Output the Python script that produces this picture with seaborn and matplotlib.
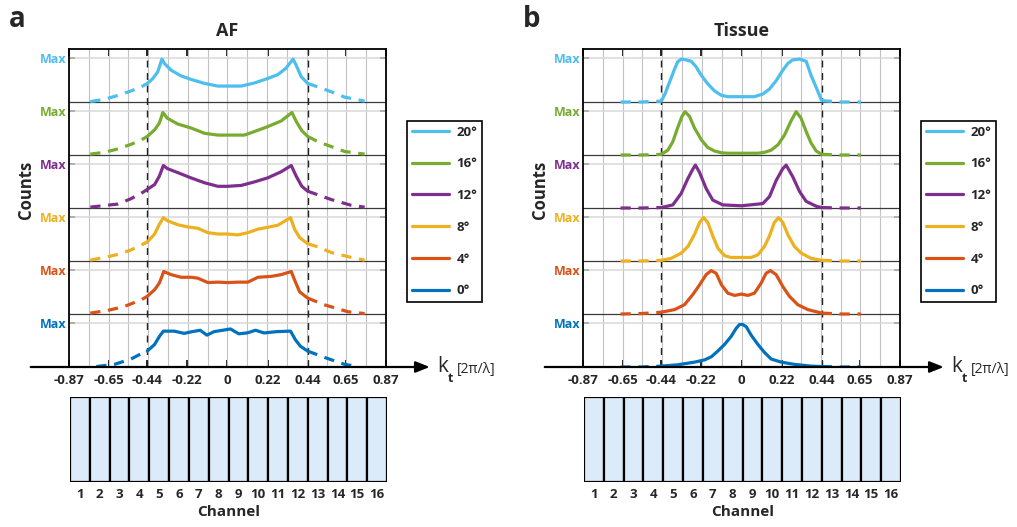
import matplotlib
matplotlib.use("Agg")
import matplotlib.pyplot as plt
import numpy as np
import pandas as pd
import seaborn as sns

sns.set_theme(style="white")
plt.rcParams["font.family"] = ["Open Sans", "DejaVu Sans"]

# Diffraction angles (top row first) and their line colours
ANGLES = ["20°", "16°", "12°", "8°", "4°", "0°"]
COLORS = ["#4DBEEE", "#77AC30", "#7E2F8E", "#EDB120", "#D95319", "#0072BD"]

# Transverse wave-vector axis, in units of 2π/λ
K_TICKS = [-0.87, -0.65, -0.44, -0.22, 0.0, 0.22, 0.44, 0.65, 0.87]
K_TICK_LABELS = ["-0.87", "-0.65", "-0.44", "-0.22", "0", "0.22", "0.44", "0.65", "0.87"]
K_NA = 0.44      # collection limit: solid inside, dashed outside
K_EDGE = 0.87
CHANNELS = list(range(1, 17))

# ---- AF: normalised counts (1 = Max) versus k_t ----
AF_K_20 = [-0.753, -0.676, -0.60, -0.53, -0.474, -0.44, -0.41, -0.383, -0.36, -0.346, -0.31, -0.255,
           -0.20, -0.126, -0.053, 0.0, 0.075, 0.148, 0.22, 0.277, 0.32, 0.36, 0.377, 0.405, 0.44,
           0.496, 0.57, 0.643, 0.716, 0.753]
AF_20 = [0.01, 0.06, 0.15, 0.25, 0.34, 0.42, 0.53, 0.68, 0.97, 0.87, 0.72, 0.59,
         0.51, 0.42, 0.36, 0.36, 0.36, 0.43, 0.53, 0.62, 0.76, 0.97, 0.83, 0.57, 0.42,
         0.34, 0.23, 0.11, 0.05, 0.02]

AF_K_16 = [-0.753, -0.676, -0.60, -0.53, -0.474, -0.44, -0.40, -0.374, -0.355, -0.33, -0.273, -0.20,
           -0.126, -0.053, 0.0, 0.093, 0.148, 0.22, 0.295, 0.354, 0.377, 0.408, 0.44, 0.496, 0.57,
           0.643, 0.753]
AF_16 = [0.02, 0.06, 0.14, 0.24, 0.34, 0.42, 0.57, 0.72, 0.96, 0.83, 0.70, 0.61,
         0.49, 0.45, 0.45, 0.45, 0.53, 0.64, 0.77, 0.96, 0.76, 0.55, 0.42, 0.30, 0.19,
         0.08, 0.02]

AF_K_12 = [-0.753, -0.60, -0.53, -0.474, -0.44, -0.40, -0.374, -0.352, -0.33, -0.273, -0.20, -0.126,
           -0.053, 0.0, 0.075, 0.148, 0.22, 0.295, 0.35, 0.377, 0.408, 0.44, 0.57, 0.68, 0.753]
AF_12 = [0.02, 0.09, 0.21, 0.33, 0.42, 0.53, 0.72, 0.96, 0.89, 0.80, 0.68, 0.57,
         0.49, 0.49, 0.51, 0.59, 0.68, 0.82, 0.96, 0.72, 0.49, 0.38, 0.19, 0.06, 0.02]

AF_K_8 = [-0.753, -0.676, -0.60, -0.53, -0.474, -0.44, -0.40, -0.374, -0.352, -0.33, -0.273, -0.218,
          -0.163, -0.108, -0.053, 0.0, 0.057, 0.112, 0.167, 0.22, 0.277, 0.346, 0.368, 0.396, 0.44,
          0.496, 0.57, 0.68, 0.753]
AF_8 = [0.02, 0.08, 0.15, 0.25, 0.36, 0.43, 0.61, 0.83, 0.98, 0.91, 0.82, 0.77,
        0.74, 0.64, 0.61, 0.61, 0.59, 0.64, 0.72, 0.76, 0.81, 0.98, 0.72, 0.53, 0.39,
        0.32, 0.19, 0.08, 0.02]

AF_K_4 = [-0.753, -0.658, -0.566, -0.474, -0.44, -0.40, -0.374, -0.35, -0.31, -0.255, -0.20, -0.163,
          -0.108, -0.053, 0.0, 0.057, 0.112, 0.167, 0.24, 0.295, 0.35, 0.368, 0.396, 0.44, 0.53,
          0.662, 0.753]
AF_4 = [0.02, 0.08, 0.17, 0.32, 0.40, 0.55, 0.70, 0.96, 0.89, 0.83, 0.83, 0.81,
        0.71, 0.72, 0.71, 0.72, 0.72, 0.83, 0.85, 0.89, 0.96, 0.77, 0.50, 0.36, 0.21,
        0.05, 0.01]

AF_K_0 = [-0.72, -0.62, -0.53, -0.474, -0.44, -0.40, -0.374, -0.352, -0.292, -0.238, -0.192, -0.15,
          -0.113, -0.073, -0.027, 0.016, 0.062, 0.108, 0.154, 0.20, 0.273, 0.346, 0.372, 0.40,
          0.44, 0.53, 0.643, 0.716]
AF_0 = [0.01, 0.06, 0.18, 0.30, 0.36, 0.51, 0.69, 0.81, 0.81, 0.76, 0.80, 0.83,
        0.72, 0.80, 0.83, 0.86, 0.75, 0.77, 0.83, 0.77, 0.80, 0.81, 0.62, 0.47,
        0.36, 0.22, 0.06, 0.01]

# ---- Tissue: normalised counts (1 = Max) versus k_t ----
TS_K_20 = [-0.664, -0.55, -0.44, -0.42, -0.395, -0.367, -0.35, -0.33, -0.303, -0.276, -0.25, -0.22,
           -0.185, -0.148, -0.11, -0.075, 0.0, 0.07, 0.117, 0.153, 0.19, 0.227, 0.254, 0.28, 0.318,
           0.355, 0.382, 0.41, 0.44, 0.55, 0.656]
TS_20 = [0.0, 0.0, 0.02, 0.18, 0.45, 0.75, 0.91, 0.97, 0.95, 0.92, 0.80, 0.60,
         0.41, 0.25, 0.15, 0.12, 0.12, 0.12, 0.18, 0.29, 0.48, 0.72, 0.87, 0.95, 0.97,
         0.92, 0.60, 0.33, 0.03, 0.0, 0.0]

TS_K_16 = [-0.664, -0.55, -0.44, -0.404, -0.377, -0.35, -0.327, -0.31, -0.285, -0.258, -0.22, -0.185,
           -0.148, -0.11, -0.075, 0.0, 0.09, 0.126, 0.163, 0.20, 0.236, 0.272, 0.30, 0.327, 0.355,
           0.382, 0.41, 0.44, 0.55, 0.656]
TS_16 = [0.0, 0.0, 0.015, 0.11, 0.30, 0.62, 0.87, 0.98, 0.87, 0.61, 0.34, 0.17,
         0.09, 0.05, 0.04, 0.04, 0.04, 0.06, 0.11, 0.23, 0.45, 0.77, 0.98, 0.83, 0.53,
         0.27, 0.09, 0.015, 0.0, 0.0]

TS_K_12 = [-0.664, -0.55, -0.44, -0.377, -0.331, -0.295, -0.267, -0.253, -0.231, -0.194, -0.158,
           -0.103, 0.0, 0.117, 0.154, 0.19, 0.225, 0.245, 0.282, 0.319, 0.355, 0.41, 0.44, 0.55, 0.656]
TS_12 = [0.0, 0.0, 0.01, 0.07, 0.33, 0.66, 0.88, 0.97, 0.81, 0.44, 0.18,
         0.07, 0.05, 0.10, 0.26, 0.62, 0.88, 0.97, 0.70, 0.37, 0.15, 0.04, 0.01, 0.0, 0.0]

TS_K_8 = [-0.664, -0.55, -0.44, -0.386, -0.33, -0.294, -0.258, -0.23, -0.208, -0.185, -0.157, -0.13,
          -0.093, -0.057, 0.0, 0.053, 0.09, 0.126, 0.153, 0.18, 0.203, 0.227, 0.254, 0.29, 0.327,
          0.382, 0.44, 0.55, 0.656]
TS_8 = [0.0, 0.0, 0.015, 0.06, 0.18, 0.33, 0.60, 0.87, 0.98, 0.87, 0.56, 0.29,
        0.12, 0.08, 0.08, 0.08, 0.14, 0.33, 0.56, 0.87, 0.98, 0.87, 0.60, 0.33, 0.18,
        0.06, 0.015, 0.0, 0.0]

TS_K_4 = [-0.664, -0.55, -0.44, -0.367, -0.313, -0.267, -0.23, -0.194, -0.166, -0.139, -0.11, -0.075,
          -0.038, 0.0, 0.035, 0.071, 0.108, 0.135, 0.159, 0.19, 0.227, 0.263, 0.309, 0.364, 0.44,
          0.55, 0.656]
TS_4 = [0.0, 0.01, 0.04, 0.10, 0.21, 0.44, 0.66, 0.89, 0.98, 0.92, 0.66, 0.47,
        0.42, 0.45, 0.42, 0.47, 0.70, 0.92, 0.98, 0.89, 0.62, 0.40, 0.21, 0.10, 0.02,
        0.0, 0.0]

TS_K_0 = [-0.664, -0.55, -0.44, -0.35, -0.258, -0.203, -0.166, -0.13, -0.093, -0.057, -0.03, -0.011,
          0.007, 0.026, 0.053, 0.09, 0.126, 0.163, 0.218, 0.29, 0.38, 0.44, 0.55, 0.656]
TS_0 = [0.0, 0.0, 0.02, 0.05, 0.11, 0.16, 0.23, 0.36, 0.51, 0.69, 0.87, 0.96,
        0.96, 0.91, 0.72, 0.51, 0.33, 0.18, 0.11, 0.06, 0.02, 0.01, 0.0, 0.0]

AF_KS = [AF_K_20, AF_K_16, AF_K_12, AF_K_8, AF_K_4, AF_K_0]
AF_VALS = [AF_20, AF_16, AF_12, AF_8, AF_4, AF_0]
TS_KS = [TS_K_20, TS_K_16, TS_K_12, TS_K_8, TS_K_4, TS_K_0]
TS_VALS = [TS_20, TS_16, TS_12, TS_8, TS_4, TS_0]

MAX_LEVEL = 0.835   # height of "Max" inside each stacked row
LW = 2.3
DASH = (0, (3.2, 2.4))
W, H = 1017, 527


def fx(px):
    return px / W


def fy(px):
    return 1 - px / H


fig = plt.figure(figsize=(W / 100, H / 100), dpi=100)


def draw_profiles(ax, ks, vals):
    n = len(ks)
    handles = []
    for i, (k, v, col) in enumerate(zip(ks, vals, COLORS)):
        band = n - 1 - i
        df = pd.DataFrame({"k": k, "c": v})
        df["y"] = band + MAX_LEVEL * df["c"]
        inner = df[df["k"].abs() <= K_NA + 1e-9]
        left = df[df["k"] <= -K_NA + 1e-9]
        right = df[df["k"] >= K_NA - 1e-9]
        sns.lineplot(data=inner, x="k", y="y", color=col, lw=LW, estimator=None,
                     sort=False, ax=ax, zorder=5, solid_joinstyle="round")
        handles.append(ax.lines[-1])
        for part in (left, right):
            sns.lineplot(data=part, x="k", y="y", color=col, lw=LW, estimator=None,
                         sort=False, ax=ax, zorder=5, linestyle=DASH, dash_capstyle="butt")
    return handles


def style_main(ax):
    ax.set_xlim(-K_EDGE, K_EDGE)
    ax.set_ylim(0, 6)
    edges = np.linspace(-K_EDGE, K_EDGE, 17)
    for xg in edges[1:-1]:
        ax.axvline(xg, color="#c2c2c2", lw=0.8, zorder=1)
    for b in range(6):
        ax.axhline(b + MAX_LEVEL, color="#d8d8d8", lw=1.1, zorder=1)
    for b in range(1, 6):
        ax.axhline(b, color="#3a3a3a", lw=0.9, zorder=2)
    for xd in (-K_NA, K_NA):
        ax.axvline(xd, color="#222222", lw=1.0, ls=(0, (5, 4)), zorder=3)
    ax.set_xticks(K_TICKS)
    ax.set_xticklabels(K_TICK_LABELS)
    ax.set_yticks([b + MAX_LEVEL for b in range(6)])
    ax.set_yticklabels(["Max"] * 6)
    for b, lbl in enumerate(ax.get_yticklabels()):
        lbl.set_color(COLORS[5 - b])
        lbl.set_fontweight("bold")
    for lbl in ax.get_xticklabels():
        lbl.set_fontweight("bold")
    ax.tick_params(axis="x", which="major", direction="in", length=5, width=1.2,
                   top=True, bottom=True, labelsize=9.5, pad=5, color="black")
    ax.tick_params(axis="y", direction="in", length=4, width=1.2, left=True, right=True,
                   labelsize=9, pad=2, color="black")
    ax.set_xlabel("")
    ax.set_ylabel("")
    for s in ("left", "right", "top"):
        ax.spines[s].set_color("black")
        ax.spines[s].set_linewidth(1.3)
    ax.spines["bottom"].set_visible(False)
    ax.annotate("", xy=(1.11, 0), xytext=(-1.08, 0), xycoords="data", textcoords="data",
                arrowprops=dict(arrowstyle="-|>,head_length=0.7,head_width=0.28",
                                color="black", lw=1.6, shrinkA=0, shrinkB=0),
                annotation_clip=False, zorder=6)


def style_channels(axc):
    sns.barplot(x=CHANNELS, y=np.ones(len(CHANNELS)), width=1.0, color="#dcebf9",
                saturation=1, edgecolor="black", linewidth=1.6, errorbar=None, ax=axc)
    axc.set_xlim(-0.5, len(CHANNELS) - 0.5)
    axc.set_ylim(0, 1)
    axc.set_yticks([])
    axc.set_ylabel("")
    for s in axc.spines.values():
        s.set_visible(False)
    axc.tick_params(axis="x", length=0, labelsize=9.5, pad=4)
    for lbl in axc.get_xticklabels():
        lbl.set_fontweight("bold")
    axc.set_xlabel("Channel", fontsize=11, fontweight="bold", labelpad=3)


panels = [
    (69, "AF", "a", AF_KS, AF_VALS),
    (583, "Tissue", "b", TS_KS, TS_VALS),
]

for left_px, title, letter, ks, vals in panels:
    ax = fig.add_axes([fx(left_px), fy(367), fx(317), 318 / H])
    handles = draw_profiles(ax, ks, vals)
    style_main(ax)

    axc = fig.add_axes([fx(left_px + 1), fy(482), fx(317), 85 / H])
    style_channels(axc)

    center_px = left_px + 158.5
    fig.text(fx(center_px), fy(31), title, ha="center", va="center",
             fontsize=13, fontweight="bold")
    fig.text(fx(left_px - 60), fy(27), letter, ha="left", va="baseline",
             fontsize=20, fontweight="bold")
    fig.text(fx(left_px - 43), fy(190), "Counts", rotation=90, ha="center", va="center",
             fontsize=12, fontweight="bold")

    # k_t axis label
    fig.text(fx(left_px + 368), fy(367), "k", ha="left", va="center", fontsize=15)
    fig.text(fx(left_px + 379), fy(379), "t", ha="left", va="center", fontsize=9,
             fontweight="bold")
    fig.text(fx(left_px + 388), fy(369), "[2π/λ]", ha="left", va="center", fontsize=10)

    leg = ax.legend(handles=handles, labels=ANGLES, loc="upper left",
                    bbox_to_anchor=(fx(left_px + 338), fy(121)), bbox_transform=fig.transFigure,
                    frameon=True, fancybox=False, edgecolor="black", framealpha=1,
                    fontsize=9.5, handlelength=2.8, handletextpad=0.6, labelspacing=1.42,
                    borderpad=0.35, borderaxespad=0)
    leg.get_frame().set_linewidth(1.2)
    for t in leg.get_texts():
        t.set_fontweight("bold")

fig.savefig("out.png", dpi=100)
